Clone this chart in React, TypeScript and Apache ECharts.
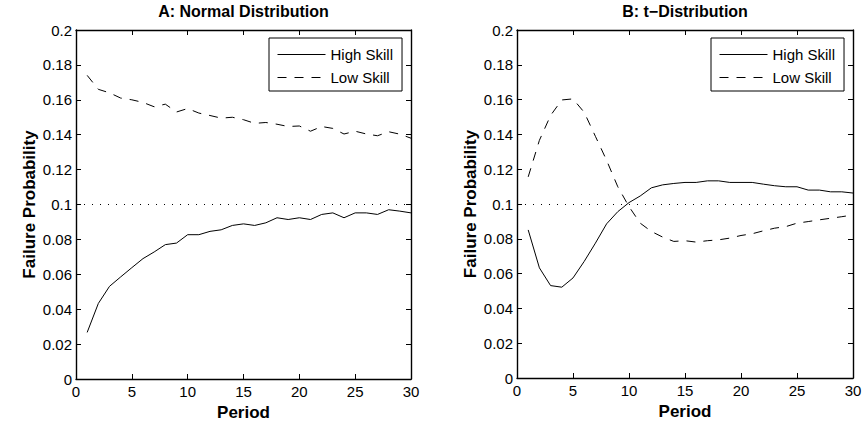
import React, { useEffect, useRef } from "react";
import * as echarts from "echarts";

const periods = Array.from({ length: 30 }, (_, i) => i + 1);

const normalHigh = [0.0267, 0.0433, 0.0531, 0.0585, 0.0638, 0.069, 0.0728, 0.077, 0.0779, 0.0827, 0.0827, 0.0846, 0.0855, 0.088, 0.0889, 0.088, 0.0895, 0.0924, 0.0914, 0.0924, 0.0914, 0.0943, 0.0952, 0.0924, 0.0952, 0.0952, 0.0943, 0.097, 0.0962, 0.0952];
const normalLow = [0.174, 0.166, 0.164, 0.161, 0.16, 0.1585, 0.156, 0.1575, 0.153, 0.155, 0.1524, 0.151, 0.1495, 0.15, 0.1486, 0.1465, 0.147, 0.146, 0.1447, 0.145, 0.142, 0.1447, 0.1436, 0.1404, 0.142, 0.1404, 0.1394, 0.1417, 0.1403, 0.138];

const tHigh = [0.0851, 0.0633, 0.0531, 0.0522, 0.0575, 0.067, 0.0775, 0.0886, 0.0956, 0.1008, 0.1046, 0.1093, 0.111, 0.1118, 0.1124, 0.1124, 0.1133, 0.1133, 0.1124, 0.1124, 0.1124, 0.1114, 0.1105, 0.1099, 0.1099, 0.108, 0.108, 0.107, 0.107, 0.1063];
const tLow = [0.1156, 0.1366, 0.1509, 0.1598, 0.1604, 0.1527, 0.1389, 0.1251, 0.1099, 0.0985, 0.089, 0.0842, 0.081, 0.0785, 0.0789, 0.0781, 0.0789, 0.0794, 0.0804, 0.0819, 0.0829, 0.0846, 0.0861, 0.087, 0.089, 0.0899, 0.0909, 0.0918, 0.0927, 0.0937];

const refLevel = 0.1;
const titles = ["A: Normal Distribution", "B: t\u2212Distribution"];
const seriesNames = ["High Skill", "Low Skill"];
const xName = "Period";
const yName = "Failure Probability";

const FONT = "'Liberation Sans', Arial, Helvetica, sans-serif";

export default function App() {
  const ref = useRef<HTMLDivElement>(null);
  useEffect(() => {
    document.body.style.margin = "0";
    const chart = echarts.init(ref.current!, null, { renderer: "svg" });
    const grids = [
      { left: 76, top: 30, width: 335, height: 349 },
      { left: 517, top: 30, width: 336, height: 348 },
    ];
    const axisLine = { show: true, onZero: false, lineStyle: { color: "#000", width: 1.4 } };
    const axisTick = { show: true, inside: true, length: 5, lineStyle: { color: "#000", width: 1 } };
    const xAxes: any[] = [];
    const yAxes: any[] = [];
    grids.forEach((_, g) => {
      xAxes.push({
        type: "value", gridIndex: g, position: "bottom", min: 0, max: 30, interval: 5,
        axisLine, axisTick, splitLine: { show: false },
        axisLabel: { color: "#000", fontSize: 15, fontFamily: FONT, margin: 5 },
        name: xName, nameLocation: "middle", nameGap: 19,
        nameTextStyle: { color: "#000", fontSize: 17, fontWeight: "bold", fontFamily: FONT },
      });
      xAxes.push({
        type: "value", gridIndex: g, position: "top", min: 0, max: 30, interval: 5,
        axisLine, axisTick, splitLine: { show: false }, axisLabel: { show: false },
      });
      yAxes.push({
        type: "value", gridIndex: g, position: "left", min: 0, max: 0.2, interval: 0.02,
        axisLine, axisTick, splitLine: { show: false },
        axisLabel: {
          color: "#000", fontSize: 15, fontFamily: FONT, margin: 4,
          formatter: (v: number) => String(parseFloat(v.toFixed(2))),
        },
        name: yName, nameLocation: "middle", nameGap: 38,
        nameTextStyle: { color: "#000", fontSize: 17, fontWeight: "bold", fontFamily: FONT },
      });
      yAxes.push({
        type: "value", gridIndex: g, position: "right", min: 0, max: 0.2, interval: 0.02,
        axisLine, axisTick, splitLine: { show: false }, axisLabel: { show: false },
      });
    });
    const datasets = [
      [normalHigh, normalLow],
      [tHigh, tLow],
    ];
    const series: any[] = [];
    datasets.forEach((pair, g) => {
      pair.forEach((vals, k) => {
        series.push({
          type: "line", name: seriesNames[k], xAxisIndex: g * 2, yAxisIndex: g * 2,
          data: periods.map((p, i) => [p, vals[i]]),
          symbol: "none", silent: true,
          lineStyle: { color: "#000", width: 1, type: k === 0 ? "solid" : [9, 8] },
          itemStyle: { color: "#000" },
          markLine: k === 0 ? {
            silent: true, symbol: ["none", "none"], label: { show: false },
            lineStyle: { color: "#000", width: 1, type: [1, 7] },
            data: [{ yAxis: refLevel }],
          } : undefined,
        });
      });
    });
    chart.setOption({
      animation: false,
      title: grids.map((gr, g) => ({
        text: titles[g], left: gr.left + gr.width / 2, top: 3, textAlign: "center", padding: 0,
        textStyle: { color: "#000", fontSize: 16, fontWeight: "bold", fontFamily: FONT },
      })),
      legend: grids.map((gr) => ({
        data: seriesNames, orient: "vertical", left: gr.left + gr.width - 142, top: 38,
        padding: [9, 9, 6, 8], itemWidth: 48, itemHeight: 14, itemGap: 8,
        borderColor: "#000", borderWidth: 1, backgroundColor: "#fff",
        itemStyle: { color: "rgba(0,0,0,0)", opacity: 0, borderWidth: 0 },
        lineStyle: { width: 1, color: "#000" },
        textStyle: { color: "#000", fontSize: 15, fontFamily: FONT },
        selectedMode: false,
      })),
      grid: grids.map((gr) => ({ ...gr, containLabel: false })),
      xAxis: xAxes,
      yAxis: yAxes,
      series,
    });
    return () => chart.dispose();
  }, []);
  return <div ref={ref} style={{ width: 865, height: 428, background: "#fff" }} />;
}
